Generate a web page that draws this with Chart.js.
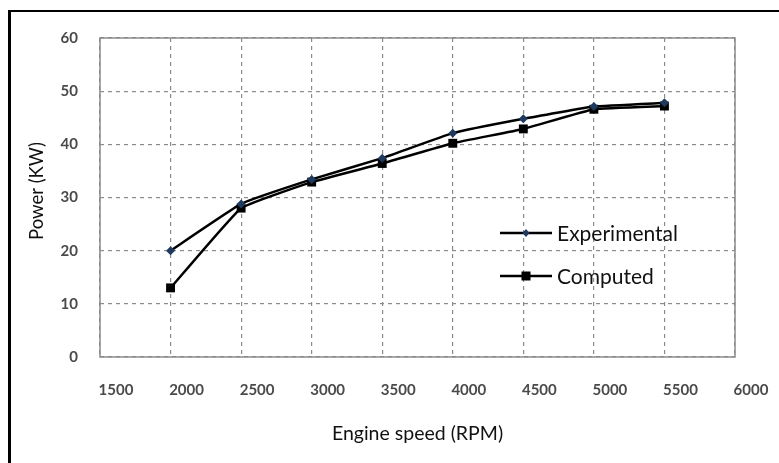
<!DOCTYPE html>
<html>
<head>
<meta charset="utf-8">
<script src="https://cdn.jsdelivr.net/npm/chart.js@4.4.0/dist/chart.umd.min.js"></script>
<style>
  html, body { margin: 0; padding: 0; background: #ffffff; }
  #wrap { position: relative; width: 779px; height: 463px; overflow: hidden; }
  #frame { position: absolute; left: 8px; top: 10px; width: 800px; height: 500px;
           border-left: 3px solid #000; border-top: 2px solid #000; box-sizing: border-box; pointer-events: none; }
  canvas { position: absolute; left: 0; top: 0; }
</style>
</head>
<body>
<div id="wrap">
  <canvas id="c" width="779" height="463"></canvas>
  <div id="frame"></div>
</div>
<script>
// ---- data ----
const rpm = [2000, 2500, 3000, 3500, 4000, 4500, 5000, 5500];
const experimental = [20, 28.8, 33.4, 37.4, 42.1, 44.8, 47.1, 47.8];
const computed = [13, 28, 32.9, 36.4, 40.2, 42.9, 46.6, 47.2];
const seriesNames = ["Experimental", "Computed"];
const xTitle = "Engine speed (RPM)";
const yTitle = "Power (KW)";
const xRange = [1500, 6000, 500];
const yRange = [0, 60, 10];

const toXY = (xs, ys) => xs.map((x, i) => ({ x: x, y: ys[i] }));

const PLOT_LEFT = 100, PLOT_TOP = 38, PLOT_RIGHT = 735, PLOT_BOTTOM = 357;
const W = 779, H = 463;

const frameAndLegend = {
  id: 'frameAndLegend',
  afterDraw(chart) {
    const { ctx, chartArea: a } = chart;
    ctx.save();
    ctx.strokeStyle = '#8a8a8a';
    ctx.lineWidth = 1.5;
    ctx.setLineDash([]);
    ctx.strokeRect(a.left, a.top, a.right - a.left, a.bottom - a.top);
    // y axis title
    ctx.save();
    ctx.translate(37, 191);
    ctx.rotate(-Math.PI / 2);
    ctx.fillStyle = '#111';
    ctx.font = '18.5px Lato';
    ctx.textAlign = 'center';
    ctx.textBaseline = 'middle';
    ctx.fillText(yTitle, 0, 0);
    ctx.restore();
    // legend inside plot
    const items = chart.data.datasets;
    const lx0 = 500, lx1 = 552, rows = [233, 276];
    items.forEach((ds, i) => {
      const y = rows[i];
      ctx.strokeStyle = '#000';
      ctx.lineWidth = 2.5;
      ctx.beginPath(); ctx.moveTo(lx0, y); ctx.lineTo(lx1, y); ctx.stroke();
      ctx.fillStyle = ds.pointBackgroundColor;
      const cx = (lx0 + lx1) / 2;
      if (ds.pointStyle === 'rect') {
        ctx.fillRect(cx - 4.5, y - 4.5, 9, 9);
      } else {
        ctx.beginPath();
        ctx.moveTo(cx, y - 4); ctx.lineTo(cx + 3.5, y); ctx.lineTo(cx, y + 4); ctx.lineTo(cx - 3.5, y);
        ctx.closePath(); ctx.fill();
      }
      ctx.fillStyle = '#111';
      ctx.font = '21px Lato';
      ctx.textBaseline = 'middle';
      ctx.textAlign = 'left';
      ctx.fillText(ds.label, 557, y + 1);
    });
    ctx.restore();
  }
};

new Chart(document.getElementById('c'), {
  type: 'line',
  data: {
    datasets: [
      {
        label: seriesNames[0],
        data: toXY(rpm, experimental),
        borderColor: '#000000',
        borderWidth: 2.5,
        pointStyle: 'rectRot',
        pointRadius: 4.5,
        pointBackgroundColor: '#1f3a5f',
        pointBorderColor: '#1f3a5f',
        pointBorderWidth: 0,
        tension: 0.1
      },
      {
        label: seriesNames[1],
        data: toXY(rpm, computed),
        borderColor: '#000000',
        borderWidth: 2.5,
        pointStyle: 'rect',
        pointRadius: 6.3,
        pointBackgroundColor: '#000000',
        pointBorderColor: '#000000',
        pointBorderWidth: 0,
        tension: 0.1
      }
    ]
  },
  options: {
    responsive: false,
    animation: false,
    devicePixelRatio: 1,
    layout: { padding: { left: 0, top: PLOT_TOP, right: W - PLOT_RIGHT, bottom: 0 } },
    plugins: { legend: { display: false }, tooltip: { enabled: false } },
    scales: {
      x: {
        type: 'linear',
        min: xRange[0], max: xRange[1],
        afterFit(s) { s.height = H - PLOT_BOTTOM; },
        ticks: { stepSize: xRange[2], padding: 24, labelOffset: 16, color: '#4a4a4a',
                 font: { family: 'Lato', size: 15, weight: 'bold' },
                 callback: v => String(v) },
        grid: { color: '#8c8c8c', lineWidth: 1.2, drawTicks: false },
        border: { display: false, dash: [4, 4] },
        title: { display: true, text: xTitle, color: '#111',
                 font: { family: 'Lato', size: 19.5 }, padding: { top: 18, bottom: 18 } }
      },
      y: {
        min: yRange[0], max: yRange[1],
        afterFit(s) { s.width = PLOT_LEFT; },
        ticks: { stepSize: yRange[2], padding: 22, color: '#4a4a4a',
                 font: { family: 'Lato', size: 15, weight: 'bold' } },
        grid: { color: '#8c8c8c', lineWidth: 1.2, drawTicks: false },
        border: { display: false, dash: [4, 4] },
        title: { display: false }
      }
    }
  },
  plugins: [frameAndLegend]
});
</script>
</body>
</html>
